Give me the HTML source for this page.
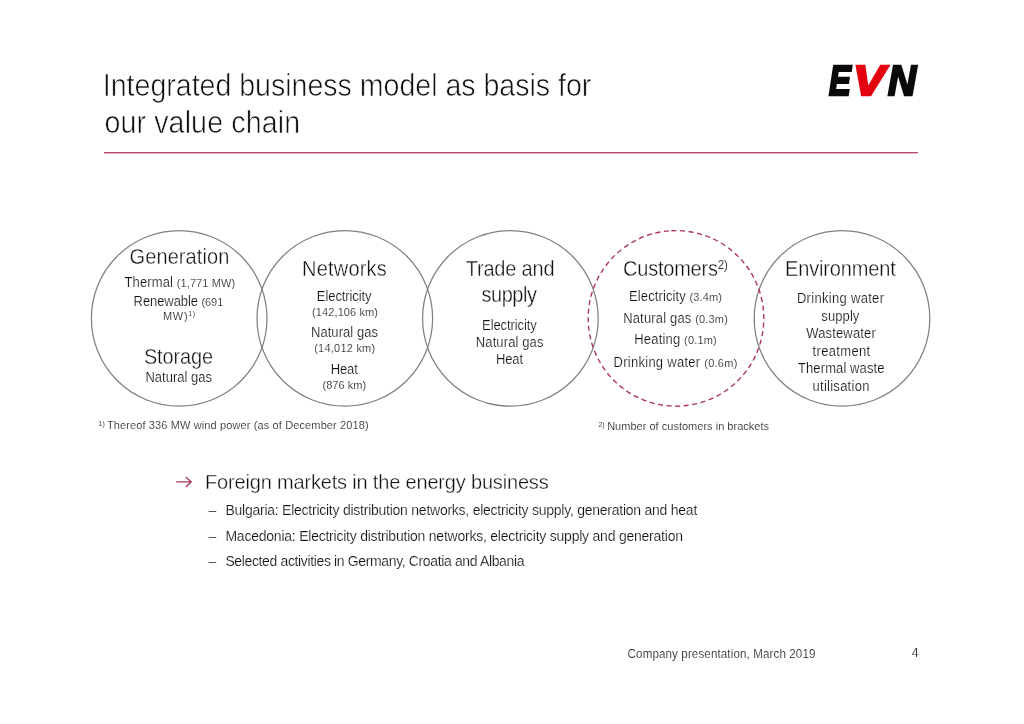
<!DOCTYPE html>
<html lang="en"><head><meta charset="utf-8"><title>Integrated business model as basis for our value chain</title>
<style>
html,body{margin:0;padding:0;background:#fff;}
body{width:1024px;height:724px;position:relative;overflow:hidden;font-family:"Liberation Sans",sans-serif;color:#101010;}
.t{transform-origin:0 84.65%;position:absolute;line-height:1;white-space:nowrap;margin:0;padding:0;-webkit-text-stroke:0.18px #fff;}
#ti1,#ti2{-webkit-text-stroke:0.6px #fff;}
#c1h,#c1s,#c2h,#c3h,#c3i,#c4h,#c5h,#bh{-webkit-text-stroke:0.35px #fff;}
.t sup{-webkit-text-stroke:0 #fff;}
.t .s{line-height:0;}
.t sup{line-height:0;vertical-align:baseline;position:relative;}
svg{position:absolute;left:0;top:0;}
.logo{position:absolute;line-height:1;white-space:nowrap;font-weight:bold;font-style:italic;color:#0a0a0a;}
.logo b{color:#e2001a;}
#slide{position:absolute;left:0;top:0;width:1024px;height:724px;will-change:transform;}
</style></head><body><div id="slide">

<svg width="1024" height="724" viewBox="0 0 1024 724">
<rect x="104" y="152" width="814" height="1" fill="#a8506e"/>
<rect x="104" y="153" width="814" height="1" fill="#ecb4c6"/>
<g fill="none" stroke="#808080" stroke-width="1.25">
<circle cx="179.2" cy="318.4" r="87.8"/>
<circle cx="344.8" cy="318.4" r="87.8"/>
<circle cx="510.4" cy="318.4" r="87.8"/>
<circle cx="842" cy="318.4" r="87.8"/>
</g>
<circle cx="676" cy="318.4" r="87.8" fill="none" stroke="#ac3256" stroke-width="1.35" stroke-dasharray="5.1 3.52" transform="rotate(-93 676 318.4)"/>
<g fill="none" stroke="#a03558" stroke-width="1.3" stroke-linecap="butt" stroke-linejoin="miter">
<path d="M176.2 481.8H190.6M185.6 477.1L191.2 481.8L185.9 487"/>
</g>
</svg>

<div class="t" id="ti1" style="top:72.39px;font-size:28.6px;letter-spacing:-0.027px;left:102.80px;transform:scaleY(1.07);">Integrated business model as basis for</div>
<div class="t" id="ti2" style="top:108.79px;font-size:28.6px;letter-spacing:0.129px;left:104.40px;transform:scaleY(1.07);">our value chain</div>
<div class="t" id="c1h" style="top:247.07px;font-size:20px;letter-spacing:0.089px;left:-20.50px;width:400px;text-align:center;transform:scaleY(1.06);">Generation</div>
<div class="t" id="c1a" style="top:276.00px;font-size:13px;letter-spacing:0.112px;left:-20.10px;width:400px;text-align:center;transform:scaleY(1.07);">Thermal <span class="s" style="font-size:11px">(1,771 MW)</span></div>
<div class="t" id="c1b" style="top:294.60px;font-size:13px;letter-spacing:-0.077px;left:-21.60px;width:400px;text-align:center;transform:scaleY(1.07);">Renewable <span class="s" style="font-size:11px">(691</span></div>
<div class="t" id="c1c" style="top:308.50px;font-size:13px;letter-spacing:0.650px;left:-20.60px;width:400px;text-align:center;transform:scaleY(1.07);"><span class="s" style="font-size:11px">MW)</span><sup style="font-size:7px;top:-4px;color:#4a4a4a">1)</sup></div>
<div class="t" id="c1s" style="top:346.87px;font-size:20px;letter-spacing:-0.150px;left:-21.60px;width:400px;text-align:center;transform:scaleY(1.06);">Storage</div>
<div class="t" id="c1n" style="top:371.10px;font-size:13px;letter-spacing:0.010px;left:-21.30px;width:400px;text-align:center;transform:scaleY(1.07);">Natural gas</div>
<div class="t" id="c2h" style="top:259.17px;font-size:20px;letter-spacing:0.186px;left:144.50px;width:400px;text-align:center;transform:scaleY(1.06);">Networks</div>
<div class="t" id="c2a" style="top:289.70px;font-size:13px;letter-spacing:-0.090px;left:144.20px;width:400px;text-align:center;transform:scaleY(1.07);">Electricity</div>
<div class="t" id="c2b" style="top:307.09px;font-size:11px;letter-spacing:0.100px;left:145.10px;width:400px;text-align:center;transform:scaleY(1.07);">(142,106 km)</div>
<div class="t" id="c2c" style="top:326.20px;font-size:13px;letter-spacing:0.050px;left:144.50px;width:400px;text-align:center;transform:scaleY(1.07);">Natural gas</div>
<div class="t" id="c2d" style="top:342.79px;font-size:11px;letter-spacing:0.230px;left:144.80px;width:400px;text-align:center;transform:scaleY(1.07);">(14,012 km)</div>
<div class="t" id="c2e" style="top:363.20px;font-size:13px;letter-spacing:-0.167px;left:144.20px;width:400px;text-align:center;transform:scaleY(1.07);">Heat</div>
<div class="t" id="c2f" style="top:379.69px;font-size:11px;letter-spacing:0.057px;left:144.40px;width:400px;text-align:center;transform:scaleY(1.07);">(876 km)</div>
<div class="t" id="c3h" style="top:258.87px;font-size:20px;letter-spacing:-0.200px;left:310.00px;width:400px;text-align:center;transform:scaleY(1.06);">Trade and</div>
<div class="t" id="c3i" style="top:285.47px;font-size:20px;letter-spacing:-0.500px;left:309.00px;width:400px;text-align:center;transform:scaleY(1.06);">supply</div>
<div class="t" id="c3a" style="top:318.80px;font-size:13px;letter-spacing:-0.090px;left:309.40px;width:400px;text-align:center;transform:scaleY(1.07);">Electricity</div>
<div class="t" id="c3b" style="top:335.70px;font-size:13px;letter-spacing:0.120px;left:309.70px;width:400px;text-align:center;transform:scaleY(1.07);">Natural gas</div>
<div class="t" id="c3c" style="top:353.10px;font-size:13px;letter-spacing:-0.067px;left:309.50px;width:400px;text-align:center;transform:scaleY(1.07);">Heat</div>
<div class="t" id="c4h" style="top:258.67px;font-size:20px;letter-spacing:-0.230px;left:475.30px;width:400px;text-align:center;transform:scaleY(1.06);">Customers<sup style="font-size:11.5px;top:-7px;color:#3a3a3a">2)</sup></div>
<div class="t" id="c4a" style="top:289.60px;font-size:13px;letter-spacing:0.106px;left:475.50px;width:400px;text-align:center;transform:scaleY(1.07);">Electricity <span class="s" style="font-size:11px">(3.4m)</span></div>
<div class="t" id="c4b" style="top:311.60px;font-size:13px;letter-spacing:0.165px;left:475.60px;width:400px;text-align:center;transform:scaleY(1.07);">Natural gas <span class="s" style="font-size:11px">(0.3m)</span></div>
<div class="t" id="c4c" style="top:333.40px;font-size:13px;letter-spacing:0.177px;left:475.60px;width:400px;text-align:center;transform:scaleY(1.07);">Heating <span class="s" style="font-size:11px">(0.1m)</span></div>
<div class="t" id="c4d" style="top:355.70px;font-size:13px;letter-spacing:0.265px;left:475.60px;width:400px;text-align:center;transform:scaleY(1.07);">Drinking water <span class="s" style="font-size:11px">(0.6m)</span></div>
<div class="t" id="c5h" style="top:258.97px;font-size:20px;letter-spacing:-0.160px;left:640.30px;width:400px;text-align:center;transform:scaleY(1.06);">Environment</div>
<div class="t" id="c5a" style="top:292.40px;font-size:13px;letter-spacing:0.308px;left:640.60px;width:400px;text-align:center;transform:scaleY(1.07);">Drinking water</div>
<div class="t" id="c5b" style="top:310.40px;font-size:13px;letter-spacing:0.100px;left:640.40px;width:400px;text-align:center;transform:scaleY(1.07);">supply</div>
<div class="t" id="c5c" style="top:327.30px;font-size:13px;letter-spacing:0.156px;left:641.10px;width:400px;text-align:center;transform:scaleY(1.07);">Wastewater</div>
<div class="t" id="c5d" style="top:344.60px;font-size:13px;letter-spacing:0.337px;left:641.60px;width:400px;text-align:center;transform:scaleY(1.07);">treatment</div>
<div class="t" id="c5e" style="top:362.10px;font-size:13px;letter-spacing:0.108px;left:641.30px;width:400px;text-align:center;transform:scaleY(1.07);">Thermal waste</div>
<div class="t" id="c5f" style="top:380.00px;font-size:13px;letter-spacing:0.260px;left:641.10px;width:400px;text-align:center;transform:scaleY(1.07);">utilisation</div>
<div class="t" id="fn1" style="top:420.39px;font-size:11px;letter-spacing:0.123px;left:98.60px;transform:scaleY(1.05);"><sup style="font-size:7px;top:-3.1px;margin-right:1.8px;color:#4a4a4a">1)</sup>Thereof 336 MW wind power (as of December 2018)</div>
<div class="t" id="fn2" style="top:420.99px;font-size:11px;letter-spacing:0.016px;left:598.40px;transform:scaleY(1.05);"><sup style="font-size:7px;top:-2.9px;margin-right:2.5px;color:#4a4a4a">2)</sup>Number of customers in brackets</div>
<div class="t" id="bh" style="top:472.37px;font-size:20px;letter-spacing:-0.176px;left:205.00px;transform:scaleY(1.02);">Foreign markets in the energy business</div>
<div class="t" id="b1" style="top:502.75px;font-size:14px;letter-spacing:-0.246px;left:225.40px;transform:scaleY(1.02);">Bulgaria: Electricity distribution networks, electricity supply, generation and heat</div>
<div class="t" id="b2" style="top:528.55px;font-size:14px;letter-spacing:-0.229px;left:225.40px;transform:scaleY(1.02);">Macedonia: Electricity distribution networks, electricity supply and generation</div>
<div class="t" id="b3" style="top:554.15px;font-size:14px;letter-spacing:-0.364px;left:225.40px;transform:scaleY(1.02);">Selected activities in Germany, Croatia and Albania</div>
<div class="t" id="d1" style="top:502.55px;font-size:14px;left:208.60px;color:#555;">–</div>
<div class="t" id="d2" style="top:528.55px;font-size:14px;left:208.60px;color:#555;">–</div>
<div class="t" id="d3" style="top:554.15px;font-size:14px;left:208.60px;color:#555;">–</div>
<div class="t" id="ft" style="top:647.58px;font-size:11.6px;letter-spacing:0.113px;left:627.60px;transform:scaleY(1.06);">Company presentation, March 2019</div>
<div class="t" id="pg" style="top:646.89px;font-size:12.3px;left:911.70px;transform:scaleY(1.02);">4</div>
<div class="logo" id="lgE" style="left:828.80px;top:59.00px;font-size:42.71px;color:#0a0a0a;-webkit-text-stroke:2.4px #0a0a0a;transform-origin:0 0;transform:scaleX(0.7680);">E</div>
<div class="logo" id="lgV" style="left:853.30px;top:59.00px;font-size:42.71px;color:#e3000f;-webkit-text-stroke:2.4px #e3000f;transform-origin:0 0;transform:scaleX(1.1209);">V</div>
<div class="logo" id="lgN" style="left:888.20px;top:59.00px;font-size:42.71px;color:#0a0a0a;-webkit-text-stroke:2.4px #0a0a0a;transform-origin:0 0;transform:scaleX(0.9137);">N</div>


</div></body></html>
